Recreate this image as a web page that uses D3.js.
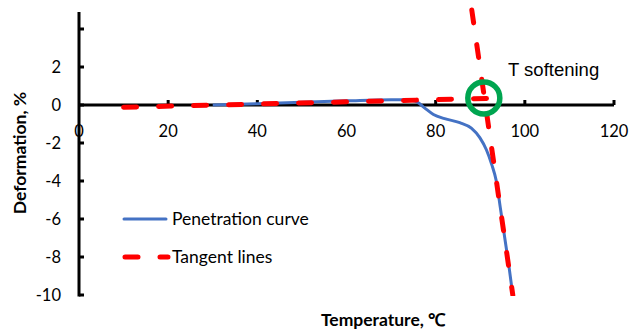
<!DOCTYPE html>
<html lang="en">
<head>
<meta charset="utf-8">
<title>Penetration curve</title>
<style>
  body { margin: 0; background: #fff; }
  .tick-label { font-family: Lato, "Open Sans", sans-serif; font-size: 16.5px; fill: #000; }
  .axis-title { font-family: Lato, "Open Sans", sans-serif; font-size: 17.5px; font-weight: bold; fill: #000; }
  .legend-text { font-family: Lato, "Open Sans", sans-serif; font-size: 17.5px; fill: #000; }
</style>
</head>
<body>
<div id="chart"></div>
<script src="https://d3js.org/d3.v7.min.js"></script>
<script>
// penetration curve (temperature, deformation %)
var curveTemp = [30, 40, 50, 60, 70, 73, 75.5, 77.5, 79.5, 82, 85.4, 88, 89.9, 91.4, 92.6, 93.6, 94.5, 95.5, 96.5, 97.3];
var curveDef  = [0, 0.07, 0.15, 0.22, 0.28, 0.28, 0.2, -0.15, -0.5, -0.72, -0.93, -1.22, -1.72, -2.37, -3.15, -4.0, -5.4, -7.0, -8.6, -10];

// two tangent lines
var tangentFlatTemp = [10, 92];
var tangentFlatDef  = [-0.12, 0.35];
var tangentSteepTemp = [88.1, 97.3];
var tangentSteepDef  = [5, -10];

// softening point
var softTemp = 90.8, softDef = 0.37;

var xTicks = [0, 20, 40, 60, 80, 100, 120];
var yTicks = [4, 2, 0, -2, -4, -6, -8, -10];
var yLabels = [2, 0, -2, -4, -6, -8, -10];

var W = 630, H = 330;
var svg = d3.select("#chart").append("svg").attr("width", W).attr("height", H);

var x = d3.scaleLinear().domain([0, 120]).range([79, 614]);
var y = d3.scaleLinear().domain([-10, 5]).range([295, 10]);

svg.append("defs").append("clipPath").attr("id", "clip")
  .append("rect").attr("x", 0).attr("y", 6).attr("width", W).attr("height", y(-10) - 6 + 1);

// x axis at y = 0
var xAxis = svg.append("g");
xAxis.append("line")
  .attr("x1", x(0)).attr("x2", x(120)).attr("y1", y(0)).attr("y2", y(0))
  .attr("stroke", "#000").attr("stroke-width", 3);
xAxis.selectAll(".xt").data(xTicks.filter(function(d) { return d > 0; })).enter().append("line")
  .attr("x1", function(d) { return x(d); }).attr("x2", function(d) { return x(d); })
  .attr("y1", y(0)).attr("y2", y(0) - 5)
  .attr("stroke", "#000").attr("stroke-width", 3);
xAxis.selectAll(".xl").data(xTicks).enter().append("text")
  .attr("class", "tick-label")
  .attr("x", function(d) { return x(d); })
  .attr("y", y(0) + 32)
  .attr("text-anchor", "middle")
  .text(function(d) { return d; });

// y axis
var yAxis = svg.append("g");
yAxis.append("line")
  .attr("x1", x(0)).attr("x2", x(0)).attr("y1", y(-10) + 1.5).attr("y2", y(4.9))
  .attr("stroke", "#000").attr("stroke-width", 3);
yAxis.selectAll(".yt").data(yTicks).enter().append("line")
  .attr("x1", x(0)).attr("x2", x(0) + 5)
  .attr("y1", function(d) { return y(d); }).attr("y2", function(d) { return y(d); })
  .attr("stroke", "#000").attr("stroke-width", 3);
yAxis.selectAll(".yl").data(yLabels).enter().append("text")
  .attr("class", "tick-label")
  .attr("x", x(0) - 18)
  .attr("y", function(d) { return y(d); })
  .attr("dy", "0.35em")
  .attr("text-anchor", "end")
  .text(function(d) { return d; });

// axis titles
svg.append("text").attr("class", "axis-title")
  .attr("transform", "translate(26," + 153 + ") rotate(-90)")
  .attr("text-anchor", "middle")
  .text("Deformation, %");
svg.append("text").attr("class", "axis-title")
  .attr("x", 383).attr("y", 326)
  .attr("text-anchor", "middle")
  .text("Temperature, \u2103");

var line = d3.line()
  .x(function(d) { return x(d[0]); })
  .y(function(d) { return y(d[1]); });

var plot = svg.append("g").attr("clip-path", "url(#clip)");

// penetration curve
plot.append("path")
  .datum(d3.zip(curveTemp, curveDef))
  .attr("d", line.curve(d3.curveMonotoneX))
  .attr("fill", "none").attr("stroke", "#4472C4").attr("stroke-width", 3);
line.curve(d3.curveLinear);

// tangent lines
[d3.zip(tangentFlatTemp, tangentFlatDef), d3.zip(tangentSteepTemp, tangentSteepDef)].forEach(function(pts) {
  plot.append("path")
    .datum(pts)
    .attr("d", line)
    .attr("fill", "none").attr("stroke", "#FF0000").attr("stroke-width", 5)
    .attr("stroke-dasharray", "13,22").attr("stroke-linecap", "round");
});

// softening point marker
svg.append("circle")
  .attr("cx", x(softTemp)).attr("cy", y(softDef)).attr("r", 16)
  .attr("fill", "none").attr("stroke", "#00A550").attr("stroke-width", 5.5);
svg.append("text")
  .attr("x", 508).attr("y", 76)
  .style("font-family", "'Liberation Sans', Arial, sans-serif").style("font-size", "18.5px")
  .text("T softening");

// legend
var legend = svg.append("g");
legend.append("line")
  .attr("x1", 124).attr("x2", 166).attr("y1", 219).attr("y2", 219)
  .attr("stroke", "#4472C4").attr("stroke-width", 3).attr("stroke-linecap", "round");
legend.append("text").attr("class", "legend-text")
  .attr("x", 172).attr("y", 219).attr("dy", "0.35em")
  .text("Penetration curve");
legend.append("line")
  .attr("x1", 125).attr("x2", 168).attr("y1", 257).attr("y2", 257)
  .attr("stroke", "#FF0000").attr("stroke-width", 5).attr("stroke-linecap", "round")
  .attr("stroke-dasharray", "13,22");
legend.append("text").attr("class", "legend-text")
  .attr("x", 172).attr("y", 257).attr("dy", "0.35em")
  .text("Tangent lines");
</script>
</body>
</html>
